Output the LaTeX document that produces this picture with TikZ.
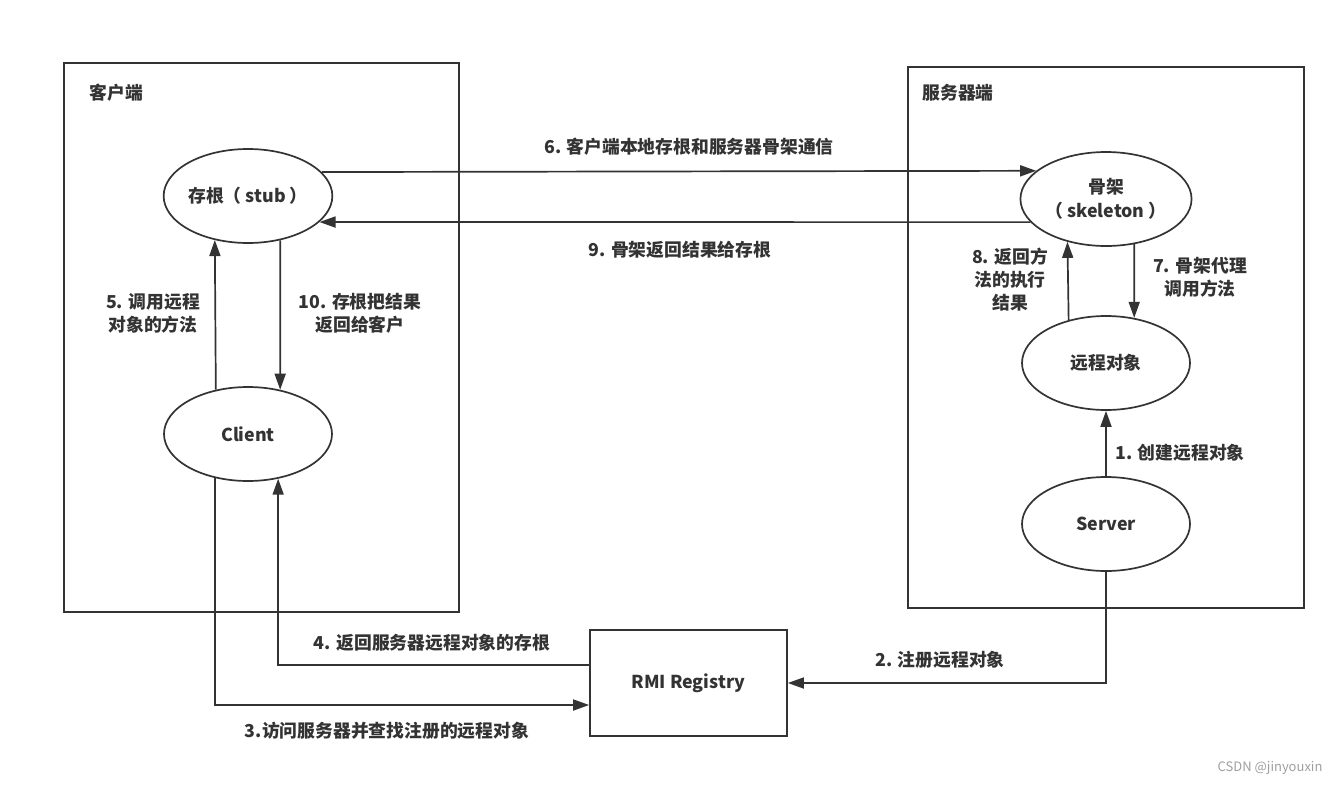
\documentclass[tikz,border=0pt]{standalone}
\usepackage{fontspec}
\setmainfont{Noto Sans CJK SC}
\usetikzlibrary{arrows.meta,shapes.geometric,calc}
\definecolor{ink}{HTML}{333333}
\tikzset{
    blob/.style={draw=ink, ellipse, line width=1.7pt, minimum width=168pt,
        minimum height=94pt, inner sep=0pt, align=center, text=ink,
        font=\bfseries\fontsize{17.8}{24}\selectfont},
    regbox/.style={draw=ink, rectangle, line width=1.7pt, minimum width=197pt,
        minimum height=106pt, text=ink, font=\bfseries\fontsize{17.8}{24}\selectfont},
    flow/.style={draw=ink, line width=1.7pt, -{Triangle[length=16pt,width=11pt]}},
    lbl/.style={align=center, text=ink, font=\bfseries\fontsize{17.8}{23}\selectfont}
}
\begin{document}
\begin{tikzpicture}[x=1pt,y=-1pt]
            \useasboundingbox (0,0) rectangle (1341,785);
            % client and server sides
            \draw[ink, line width=1.7pt] (64,63) rectangle (459,612);
            \draw[ink, line width=1.7pt] (908,67) rectangle (1304,608);
            \node[lbl, anchor=west] (ctitle) at (86,93) {客户端};
            \node[lbl, anchor=west] (stitle) at (919,93) {服务器端};
            % ellipses
            \node[blob] (stub) at (248,196) {存根（ stub ）};
            \node[blob] (client) at (248,434) {Client};
            \node[blob] (skel) at (1106,199) {骨架\\（ skeleton ）};
            \node[blob] (remote) at (1106,363) {远程对象};
            \node[blob] (server) at (1106,524) {Server};
            \node[regbox] (rmi) at (688.5,683) {RMI Registry};
            % arrows
            \draw[flow] (server.north) -- (remote.south);
            \draw[flow] (server.south) |- (rmi.east);
            \draw[flow] (client.233.7) |- ($(rmi.west)+(0,22)$);
            \draw[flow] ($(rmi.west)+(0,-18)$) -| (client.-56.7);
            \draw[flow] (client.126.3) -- (stub.233.7);
            \draw[flow] (stub.18.4) -- (skel.158.6);
            \draw[flow] (skel.-58.75) -- (remote.58.75);
            \draw[flow] (remote.131.2) -- (skel.228.8);
            \draw[flow] (skel.197.4) -- (stub.-20.4);
            \draw[flow] (stub.-54.6) -- (client.54.6);
            % labels
            \node[lbl] (l1) at (1180,453) {1. 创建远程对象};
            \node[lbl] (l2) at (940,660) {2. 注册远程对象};
            \node[lbl] (l3) at (387,731) {3.访问服务器并查找注册的远程对象};
            \node[lbl] (l4) at (432,643) {4. 返回服务器远程对象的存根};
            \node[lbl] (l5) at (153,313) {5. 调用远程\\对象的方法};
            \node[lbl] (l6) at (689,147) {6. 客户端本地存根和服务器骨架通信};
            \node[lbl] (l7) at (1200,277) {7. 骨架代理\\调用方法};
            \node[lbl] (l8) at (1010,280) {8. 返回方\\法的执行\\结果};
            \node[lbl] (l9) at (680,250) {9. 骨架返回结果给存根};
            \node[lbl] (l10) at (360,313) {10. 存根把结果\\返回给客户};
            \node[anchor=east, text=gray!75, font=\fontsize{13}{15}\selectfont] (mark) at (1326,768) {CSDN @jinyouxin};
\end{tikzpicture}
\end{document}
